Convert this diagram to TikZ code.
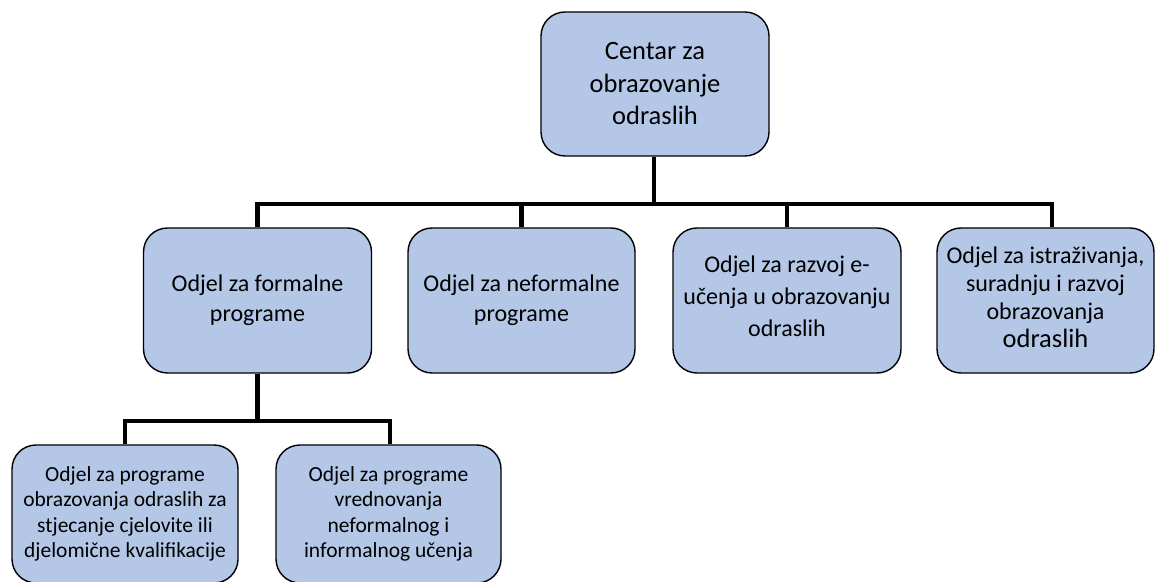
\documentclass[tikz,border=0pt]{standalone}
\usepackage{fontspec}
\setmainfont{Carlito}
\definecolor{boxfill}{HTML}{B4C7E7}
\begin{document}
\begin{tikzpicture}[x=1pt,y=1pt,
  orgbox/.style={draw=black, line width=1.4pt, fill=boxfill, rounded corners=24pt,
    align=center, inner sep=0pt, text=black},
  lvltwo/.style={orgbox, minimum height=145pt, font=\fontsize{24}{30}\selectfont},
  lvlthree/.style={orgbox, minimum height=138pt, font=\fontsize{21.5}{25.5}\selectfont},
  conn/.style={line width=4.8pt}]
\useasboundingbox (0,0) rectangle (1155,581);
\coordinate (j1) at (654,377);
\coordinate (j2) at (257.5,160);
% nodes
\node[orgbox, minimum width=228pt, minimum height=144pt, font=\fontsize{26.5}{32.5}\selectfont]
  (root) at (655,497) {Centar za\\obrazovanje\\odraslih};
\node[lvltwo, minimum width=228pt] (A) at (257.5,280.5) {Odjel za formalne\\programe};
\node[lvltwo, minimum width=227pt] (B) at (521.5,280.5) {Odjel za neformalne\\programe};
\node[lvltwo, minimum width=228pt, font=\fontsize{24}{32}\selectfont,
  text depth=8pt] (C) at (787,280.5) {Odjel za razvoj e-\\učenja u obrazovanju\\odraslih};
\node[lvltwo, minimum width=217pt, font=\fontsize{24}{28}\selectfont, text depth=6pt] (D) at (1045.5,280.5)
  {Odjel za istraživanja,\\suradnju i razvoj\\obrazovanja\\{\fontsize{26.5}{30}\selectfont odraslih}};
\node[lvlthree, minimum width=226pt] (E) at (125,67) {Odjel za programe\\obrazovanja odraslih za\\stjecanje cjelovite ili\\djelomične kvalifikacije};
\node[lvlthree, minimum width=225pt] (F) at (388.5,67) {Odjel za programe\\vrednovanja\\neformalnog i\\informalnog učenja};
% connectors
\draw[conn] ([xshift=-1pt]root.south) -- (j1);
\draw[conn] (A.north) |- (j1) -| ([xshift=6.5pt]D.north);
\draw[conn] (B.north) -- (B.north |- j1);
\draw[conn] (C.north) -- (C.north |- j1);
\draw[conn] (A.south) -- (j2);
\draw[conn] (E.north) |- (j2) -| ([xshift=1.5pt]F.north);
\end{tikzpicture}
\end{document}
